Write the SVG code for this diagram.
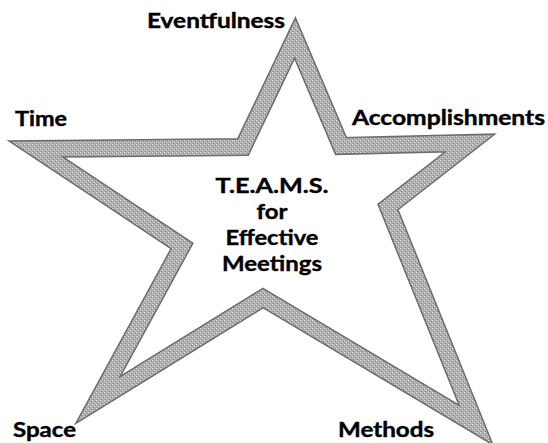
<svg xmlns="http://www.w3.org/2000/svg" width="548" height="443" viewBox="0 0 548 443">
  <defs>
    <!-- stippled grey used to fill the star band -->
    <pattern id="grain" width="4" height="4" patternUnits="userSpaceOnUse">
      <rect width="4" height="4" fill="#b0b0b0"/>
      <rect x="0" y="0" width="1" height="1" fill="#e4e4e4"/>
      <rect x="2" y="2" width="1" height="1" fill="#d8d8d8"/>
      <rect x="1" y="3" width="1" height="1" fill="#868686"/>
      <rect x="3" y="1" width="1" height="1" fill="#8c8c8c"/>
    </pattern>
    <path id="star-line" d="M295,38 L243,147 L36,149 L182,246 L98,400 L263,298 L476,425 L388,207 L470,143 L341,146 Z"/>
    <style>
      .band-edge { fill: none; stroke: #6c6c6c; stroke-width: 18; stroke-linejoin: miter; stroke-miterlimit: 10; }
      .band-fill { fill: none; stroke: url(#grain); stroke-width: 15; stroke-linejoin: miter; stroke-miterlimit: 10; }
      .label, .title { font-family: Lato, "Open Sans", "Liberation Sans", sans-serif; font-weight: 700; fill: #000; stroke: #000; stroke-width: 0.4px; paint-order: stroke; }
      .label { font-size: 20.5px; }
      .title { font-size: 21.5px; text-anchor: middle; }
    </style>
  </defs>

  <rect width="548" height="443" fill="#ffffff"/>

  <!-- star outline -->
  <g id="star">
    <use href="#star-line" class="band-edge"/>
    <use href="#star-line" class="band-fill"/>
  </g>

  <!-- point labels -->
  <g id="label-eventfulness">
    <text class="label" x="147" y="28" textLength="138" lengthAdjust="spacingAndGlyphs">Eventfulness</text>
  </g>
  <g id="label-time">
    <text class="label" x="15" y="126" textLength="52" lengthAdjust="spacingAndGlyphs">Time</text>
  </g>
  <g id="label-accomplishments">
    <text class="label" x="352" y="125" textLength="193" lengthAdjust="spacingAndGlyphs">Accomplishments</text>
  </g>
  <g id="label-space">
    <text class="label" x="13" y="437" textLength="63" lengthAdjust="spacingAndGlyphs">Space</text>
  </g>
  <g id="label-methods">
    <text class="label" x="338" y="437" textLength="96" lengthAdjust="spacingAndGlyphs">Methods</text>
  </g>

  <!-- centre title -->
  <g id="title">
    <text class="title" x="272" y="193" textLength="113" lengthAdjust="spacingAndGlyphs">T.E.A.M.S.</text>
    <text class="title" x="272" y="219" textLength="31" lengthAdjust="spacingAndGlyphs">for</text>
    <text class="title" x="272" y="245" textLength="93" lengthAdjust="spacingAndGlyphs">Effective</text>
    <text class="title" x="272" y="271" textLength="100" lengthAdjust="spacingAndGlyphs">Meetings</text>
  </g>
</svg>
